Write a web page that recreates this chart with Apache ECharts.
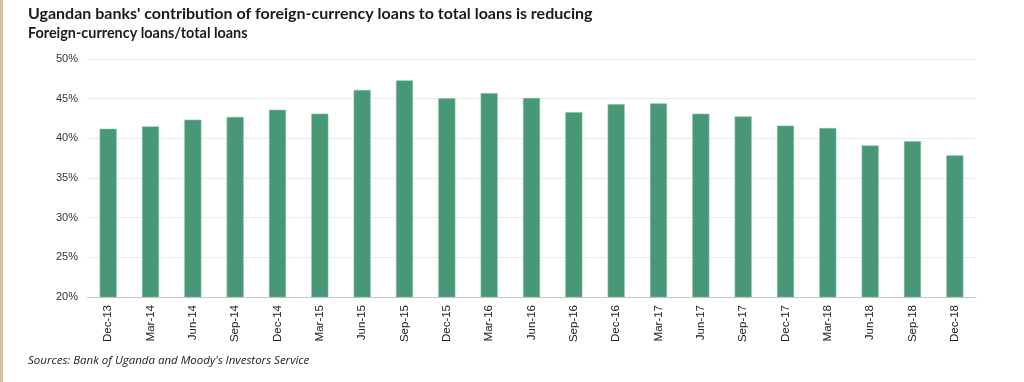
<!DOCTYPE html>
<html>
<head>
<meta charset="utf-8">
<script src="https://cdn.jsdelivr.net/npm/echarts@6/dist/echarts.min.js"></script>
<style>
html,body{margin:0;padding:0;background:#fff;}
#chart{width:1024px;height:382px;}
</style>
</head>
<body>
<div id="chart"></div>
<script>
var categories = ['Dec-13','Mar-14','Jun-14','Sep-14','Dec-14','Mar-15','Jun-15','Sep-15','Dec-15','Mar-16','Jun-16','Sep-16','Dec-16','Mar-17','Jun-17','Sep-17','Dec-17','Mar-18','Jun-18','Sep-18','Dec-18'];
var fxLoanShare = [41.2, 41.5, 42.35, 42.7, 43.6, 43.1, 46.1, 47.3, 45.05, 45.7, 45.1, 43.3, 44.3, 44.4, 43.1, 42.75, 41.6, 41.3, 39.1, 39.65, 37.85];
var titleText = "Ugandan banks' contribution of foreign-currency loans to total loans is reducing";
var subtitleText = 'Foreign-currency loans/total loans';
var sourceText = "Sources: Bank of Uganda and Moody's Investors Service";

var chart = echarts.init(document.getElementById('chart'), null, {renderer: 'canvas'});
chart.setOption({
  animation: false,
  backgroundColor: '#ffffff',
  title: [
    {text: titleText, left: 23, top: 1,
     textStyle: {fontFamily: 'Lato', fontWeight: 700, fontSize: 16, color: '#1a1a1a'}},
    {text: subtitleText, left: 23, top: 21,
     textStyle: {fontFamily: 'Lato', fontWeight: 700, fontSize: 14.4, color: '#1a1a1a'}},
    {text: sourceText, left: 23, top: 350,
     textStyle: {fontFamily: 'Open Sans', fontStyle: 'italic', fontWeight: 400, fontSize: 11.5, color: '#222'}}
  ],
  graphic: [
    {type: 'rect', left: 0, top: 0, shape: {width: 3, height: 382}, style: {fill: '#d8c39f'}}
  ],
  grid: {left: 87, right: 48, top: 59, bottom: 85, containLabel: false},
  xAxis: {
    type: 'category',
    data: categories,
    axisLine: {show: true, lineStyle: {color: '#c8c8c8', width: 1}},
    axisTick: {show: false},
    axisLabel: {rotate: 90, margin: 8, fontFamily: 'Liberation Sans', fontSize: 11.5, color: '#222', interval: 0}
  },
  yAxis: {
    type: 'value',
    min: 20, max: 50, interval: 5,
    axisLine: {show: false},
    axisTick: {show: false},
    splitLine: {lineStyle: {color: '#ebebeb', width: 1}},
    axisLabel: {formatter: '{value}%', margin: 9, fontFamily: 'Liberation Sans', fontSize: 11, color: '#333'}
  },
  series: [{
    type: 'bar',
    data: fxLoanShare,
    barWidth: 17,
    itemStyle: {color: '#489877', borderColor: '#7fbea0', borderWidth: 0.6}
  }]
});
</script>
</body>
</html>
